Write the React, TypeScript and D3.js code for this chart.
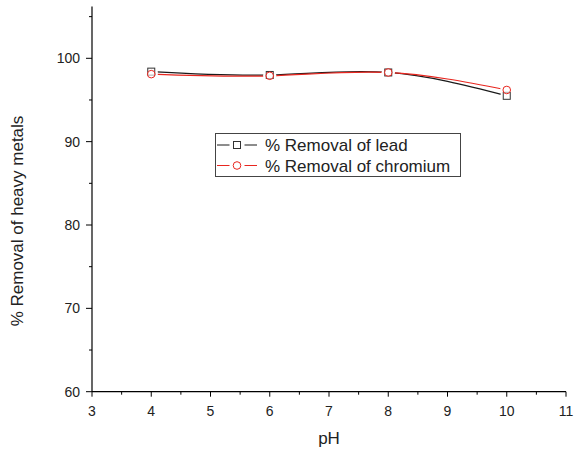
import React from "react";
import * as d3 from "d3";

const phValues = [4, 6, 8, 10];
const leadRemoval = [98.4, 98.0, 98.3, 95.5];
const chromiumRemoval = [98.1, 97.9, 98.3, 96.2];
const xTicks = [3, 4, 5, 6, 7, 8, 9, 10, 11];
const xMinorTicks = [3.5, 4.5, 5.5, 6.5, 7.5, 8.5, 9.5, 10.5];
const yTicks = [60, 70, 80, 90, 100];
const yMinorTicks = [65, 75, 85, 95, 105];
const legendLabels = ["% Removal of lead", "% Removal of chromium"];

const FONT = "'Liberation Sans', Arial, Helvetica, sans-serif";
const TEXT = "#222";
const RED = "#e8261f";
const BLACK = "#1a1a1a";

export default function App() {
  const x = d3.scaleLinear().domain([3, 11]).range([92, 566]);
  const y = d3.scaleLinear().domain([60, 100]).range([391.7, 58.3]);
  const yTop = 106.2;
  const line = d3
    .line<[number, number]>()
    .x((d) => x(d[0]))
    .y((d) => y(d[1]))
    .curve(d3.curveNatural);
  const leadPts = phValues.map((p, i) => [p, leadRemoval[i]] as [number, number]);
  const crPts = phValues.map((p, i) => [p, chromiumRemoval[i]] as [number, number]);

  const x0 = x(3);
  const y0 = y(60);

  return (
    <svg
      width={577}
      height={449}
      style={{ position: "absolute", left: 0, top: 0, background: "#fff" }}
      fontFamily={FONT}
    >
      <rect x={0} y={0} width={577} height={449} fill="#fff" />
      {/* series lines */}
      <path d={line(leadPts) || ""} fill="none" stroke={BLACK} strokeWidth={1.2} />
      <path d={line(crPts) || ""} fill="none" stroke={RED} strokeWidth={1.2} />
      {/* gaps around markers */}
      {leadPts.map((d, i) => (
        <circle key={"gl" + i} cx={x(d[0])} cy={y(d[1])} r={6.5} fill="#fff" />
      ))}
      {crPts.map((d, i) => (
        <circle key={"gc" + i} cx={x(d[0])} cy={y(d[1])} r={6.5} fill="#fff" />
      ))}
      {/* markers */}
      {leadPts.map((d, i) => (
        <rect
          key={"ml" + i}
          x={x(d[0]) - 3.5}
          y={y(d[1]) - 3.5}
          width={7}
          height={7}
          fill="none"
          stroke="#333"
          strokeWidth={1}
        />
      ))}
      {crPts.map((d, i) => (
        <circle
          key={"mc" + i}
          cx={x(d[0])}
          cy={y(d[1])}
          r={3.8}
          fill="#fff"
          fillOpacity={0.6}
          stroke={RED}
          strokeWidth={1}
        />
      ))}

      {/* axes */}
      <line x1={x0} x2={x0} y1={y(yTop)} y2={y0} stroke="#000" strokeWidth={1.2} />
      <line x1={x0} x2={x(11)} y1={y0} y2={y0} stroke="#000" strokeWidth={1.2} />
      {xTicks.map((t) => (
        <g key={"xt" + t}>
          <line x1={x(t)} x2={x(t)} y1={y0} y2={y0 + 5} stroke="#000" strokeWidth={1} />
          <text
            x={x(t)}
            y={416}
            textAnchor="middle"
            fontSize={14}
            fill={TEXT}
          >
            {t}
          </text>
        </g>
      ))}
      {xMinorTicks.map((t) => (
        <line key={"xm" + t} x1={x(t)} x2={x(t)} y1={y0} y2={y0 + 3} stroke="#000" strokeWidth={1} />
      ))}
      {yTicks.map((t) => (
        <g key={"yt" + t}>
          <line x1={x0 - 6} x2={x0} y1={y(t)} y2={y(t)} stroke="#000" strokeWidth={1} />
          <text
            x={80}
            y={y(t)}
            dy="0.35em"
            textAnchor="end"
            fontSize={14}
            fill={TEXT}
          >
            {t}
          </text>
        </g>
      ))}
      {yMinorTicks.map((t) => (
        <line key={"ym" + t} x1={x0 - 3} x2={x0} y1={y(t)} y2={y(t)} stroke="#000" strokeWidth={1} />
      ))}

      {/* axis titles */}
      <text x={329} y={444} textAnchor="middle" fontSize={17} fill={TEXT}>
        pH
      </text>
      <text
        transform={`translate(23,221) rotate(-90)`}
        textAnchor="middle"
        fontSize={17}
        fill={TEXT}
      >
        % Removal of heavy metals
      </text>

      {/* legend */}
      <rect x={215.5} y={133.5} width={245} height={43} fill="#fff" stroke="#444" strokeWidth={1} />
      <line x1={217} x2={229.5} y1={145} y2={145} stroke={BLACK} strokeWidth={1} />
      <line x1={244.5} x2={257} y1={145} y2={145} stroke={BLACK} strokeWidth={1} />
      <rect x={233.5} y={141.5} width={7} height={7} fill="#fff" stroke="#333" strokeWidth={1} />
      <text x={265} y={151} fontSize={17} fill={TEXT}>
        {legendLabels[0]}
      </text>
      <line x1={217} x2={229.5} y1={165.5} y2={165.5} stroke={RED} strokeWidth={1} />
      <line x1={244.5} x2={257} y1={165.5} y2={165.5} stroke={RED} strokeWidth={1} />
      <circle cx={237} cy={165.5} r={3.8} fill="#fff" stroke={RED} strokeWidth={1} />
      <text x={265} y={172} fontSize={17} fill={TEXT}>
        {legendLabels[1]}
      </text>
    </svg>
  );
}
